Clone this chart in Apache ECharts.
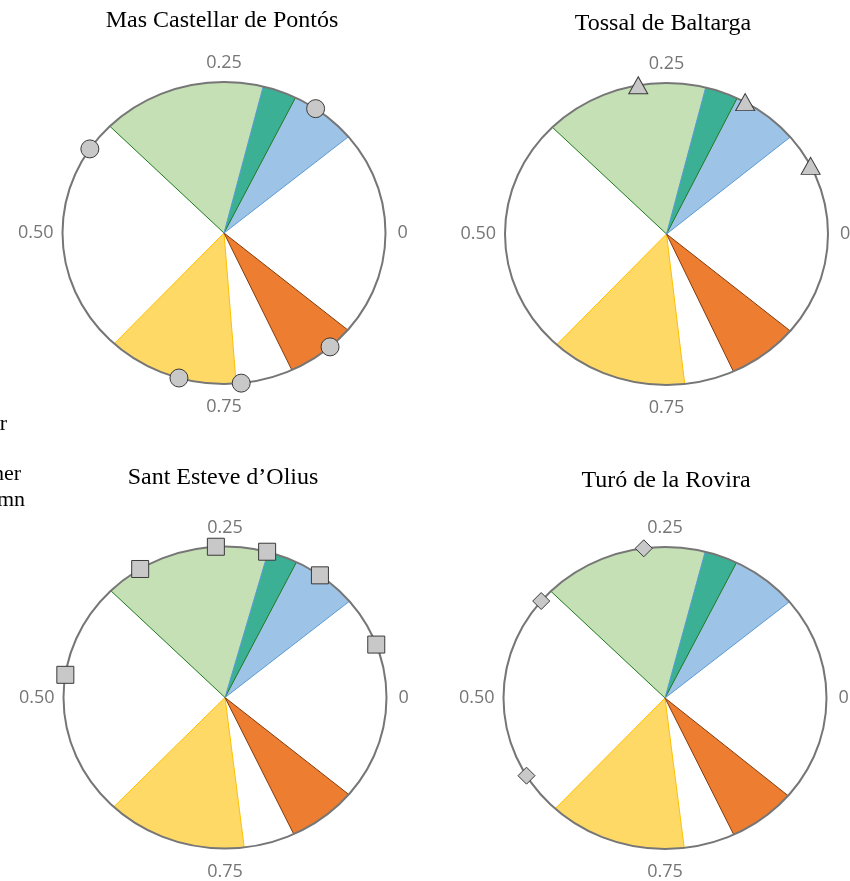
<!DOCTYPE html>
<html>
<head>
<meta charset="utf-8">
<script src="https://cdn.jsdelivr.net/npm/echarts@6/dist/echarts.min.js"></script>
<style>html,body{margin:0;padding:0;background:#fff;}#c{width:850px;height:881px;}</style>
</head>
<body>
<div id="c"></div>
<script>
// ---- data ----
const panelTitles = ['Mas Castellar de Pontós', 'Tossal de Baltarga', 'Sant Esteve d’Olius', 'Turó de la Rovira'];
const tickValues = [0, 0.25, 0.5, 0.75];
const tickLabels = ['0', '0.25', '0.50', '0.75'];
// seasonal windows, fraction of the year [start, end], one per site
const blueWindow   = [[0.110, 0.211], [0.111, 0.211], [0.110, 0.207], [0.110, 0.210]];
const greenWindow  = [[0.177, 0.375], [0.178, 0.375], [0.177, 0.375], [0.177, 0.375]];
const orangeWindow = [[0.819, 0.889], [0.818, 0.889], [0.820, 0.889], [0.820, 0.888]];
const yellowWindow = [[0.631, 0.762], [0.631, 0.768], [0.629, 0.769], [0.631, 0.769]];
// observation dates (fraction of the year) per site
const marksMas    = [0.154, 0.406, 0.705, 0.767, 0.864];
const marksTossal = [0.278, 0.169, 0.0745];
const marksSant   = [0.338, 0.259, 0.208, 0.150, 0.057, 0.476];
const marksTuro   = [0.271, 0.389, 0.586];
const legendFragments = ['Winter', 'Other', 'Autumn'];

// ---- layout / style ----
const marks = [marksMas, marksTossal, marksSant, marksTuro];
const symbols = [
  {symbol: 'circle', size: 18},
  {symbol: 'triangle', size: [19, 17]},
  {symbol: 'rect', size: 17},
  {symbol: 'diamond', size: [17, 17]}
];
const centers = [[224, 233], [666.5, 234], [225, 697.5], [665, 698]];
const RX = 161.5, RY = 151;
const titlePos = [[222, 21], [663, 24], [223, 478], [666, 481]];
const wedgeStyle = {
  yellow: {fill: '#FFD966', stroke: '#FFC000'},
  orange: {fill: '#ED7D31', stroke: '#843C0C'},
  green:  {fill: '#C5E0B4', stroke: '#1F7A1F'},
  blue:   {fill: '#9DC3E6', stroke: '#5B9BD5'},
  teal:   {fill: '#3BB095', stroke: null}
};
const wedgeOrder = ['yellow', 'orange', 'green', 'blue', 'teal'];

function panelWedges(i) {
  const b = blueWindow[i], g = greenWindow[i];
  const w = {
    yellow: yellowWindow[i],
    orange: orangeWindow[i],
    green: g,
    blue: b,
    teal: [Math.max(b[0], g[0]), Math.min(b[1], g[1])]
  };
  return wedgeOrder.map(k => ({name: k, value: w[k]}));
}

function ang(t) { return 2 * Math.PI * t; }

function fillRender(params, api) {
  const s = api.value(0), e = api.value(1);
  const key = wedgeOrder[params.dataIndex];
  const pts = [api.coord([0, 0])];
  const n = 60;
  for (let k = 0; k <= n; k++) {
    const a = ang(s + (e - s) * k / n);
    pts.push(api.coord([Math.cos(a), Math.sin(a)]));
  }
  return {type: 'polygon', shape: {points: pts}, style: {fill: wedgeStyle[key].fill, stroke: null}};
}
function edgeRender(params, api) {
  const s = api.value(0), e = api.value(1);
  const key = wedgeOrder[params.dataIndex];
  if (!wedgeStyle[key].stroke) return null;
  const pts = [
    api.coord([Math.cos(ang(s)), Math.sin(ang(s))]),
    api.coord([0, 0]),
    api.coord([Math.cos(ang(e)), Math.sin(ang(e))])
  ];
  return {type: 'polyline', shape: {points: pts}, style: {fill: null, stroke: wedgeStyle[key].stroke, lineWidth: 1}};
}
function ringRender(params, api) {
  const c = api.coord([0, 0]);
  const sz = api.size([1, 1]);
  return {type: 'ellipse', shape: {cx: c[0], cy: c[1], rx: sz[0], ry: sz[1]},
    style: {fill: null, stroke: '#767676', lineWidth: 2}};
}
function labelRender(params, api) {
  const t = api.value(0);
  const a = ang(t);
  const p = api.coord([Math.cos(a), Math.sin(a)]);
  let x = p[0], y = p[1], align = 'center', va = 'middle';
  if (t === 0) { x += 12; align = 'left'; }
  else if (t === 0.25) { y -= 10; va = 'bottom'; }
  else if (t === 0.5) { x -= 9; align = 'right'; }
  else { y += 14; va = 'top'; }
  return {type: 'text', style: {x: x, y: y, text: tickLabels[params.dataIndex], fill: '#767676',
    font: '18px "Open Sans", sans-serif', align: align, verticalAlign: va}};
}

const grids = [], xAxes = [], yAxes = [], series = [];
for (let i = 0; i < 4; i++) {
  const c = centers[i];
  grids.push({left: c[0] - RX, top: c[1] - RY, width: 2 * RX, height: 2 * RY, containLabel: false});
  xAxes.push({gridIndex: i, type: 'value', min: -1, max: 1, show: false});
  yAxes.push({gridIndex: i, type: 'value', min: -1, max: 1, show: false});
  const wd = panelWedges(i);
  series.push({type: 'custom', xAxisIndex: i, yAxisIndex: i, clip: false, z: 1, silent: true,
    renderItem: fillRender, data: wd});
  series.push({type: 'custom', xAxisIndex: i, yAxisIndex: i, clip: false, z: 2, silent: true,
    renderItem: edgeRender, data: wd});
  series.push({type: 'custom', xAxisIndex: i, yAxisIndex: i, clip: false, z: 3, silent: true,
    renderItem: ringRender, data: [[0, 0]]});
  series.push({type: 'custom', xAxisIndex: i, yAxisIndex: i, clip: false, z: 3, silent: true,
    renderItem: labelRender, data: tickValues.map(v => [v])});
  series.push({type: 'scatter', xAxisIndex: i, yAxisIndex: i, clip: false, z: 4, silent: true,
    symbol: symbols[i].symbol, symbolSize: symbols[i].size,
    itemStyle: {color: '#C8C8C8', borderColor: '#3A3A3A', borderWidth: 1, opacity: 1},
    data: marks[i].map(t => [Math.cos(ang(t)), Math.sin(ang(t))])});
}

const graphics = panelTitles.map((t, i) => ({
  type: 'text', left: null,
  style: {x: titlePos[i][0], y: titlePos[i][1], text: t, fill: '#000',
    font: '24px "Liberation Serif", "Times New Roman", serif', align: 'center', verticalAlign: 'middle'}
}));
const fragPos = [[7, 424], [21, 474], [25, 500]];
legendFragments.forEach((t, i) => graphics.push({
  type: 'text',
  style: {x: fragPos[i][0], y: fragPos[i][1], text: t, fill: '#000',
    font: '22px "Liberation Serif", "Times New Roman", serif', align: 'right', verticalAlign: 'middle'}
}));

const chart = echarts.init(document.getElementById('c'), null, {renderer: 'canvas'});
chart.setOption({
  animation: false,
  backgroundColor: '#fff',
  grid: grids, xAxis: xAxes, yAxis: yAxes, series: series,
  graphic: graphics
});
</script>
</body>
</html>
